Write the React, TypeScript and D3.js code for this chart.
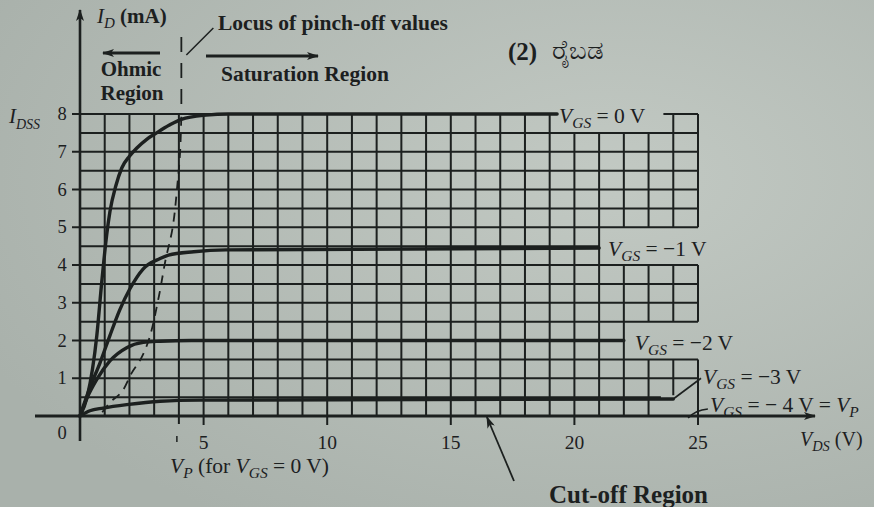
import React from "react";
import * as d3 from "d3";

const W = 874;
const H = 507;

// Output characteristics of an n-channel JFET (IDSS = 8 mA, VP = -4 V)
const vdsGate0 = [0, 0.3, 0.68, 0.88, 1.08, 1.21, 1.45, 1.69, 2.0, 2.3, 2.7, 3.1, 3.6, 4.1, 5.1, 6.0, 19.3];
const idGate0 = [0, 0.53, 2.13, 3.55, 4.8, 5.41, 6.1, 6.57, 6.88, 7.1, 7.33, 7.5, 7.7, 7.86, 7.97, 8.0, 8.0];
const vdsGate1 = [0, 0.4, 0.81, 1.21, 1.6, 2.02, 2.56, 3.24, 3.58, 4.6, 5.9, 21];
const idGate1 = [0, 0.75, 1.41, 2.13, 2.8, 3.37, 3.9, 4.17, 4.26, 4.35, 4.4, 4.45];
const vdsGate2 = [0, 0.3, 0.68, 1.21, 1.89, 2.56, 3.24, 4.5, 22];
const idGate2 = [0, 0.5, 0.97, 1.46, 1.81, 1.95, 1.98, 2.0, 2.0];
const vdsGate3 = [0, 0.4, 0.94, 1.89, 3.24, 4.86, 24];
const idGate3 = [0, 0.14, 0.21, 0.3, 0.39, 0.42, 0.45];

// Locus of pinch-off values
const vdsLocus = [0.9, 1.2, 1.7, 2.1, 2.45, 2.8, 3.2, 3.45, 3.75, 3.95, 4.05, 4.1];
const idLocus = [0.1, 0.35, 0.65, 1.15, 1.5, 2.05, 3.2, 4.1, 5.0, 6.2, 7.0, 8.0];

const yTicks = [1, 2, 3, 4, 5, 6, 7, 8];
const xTicks = [5, 10, 15, 20, 25];
const pinchOff = 4;
const cutOffVds = 16.5;

// blank areas of the grid behind the curve labels (VDS, ID units)
const boxX0 = [19.3, 21, 22, 23.5];
const boxX1 = [23.6, 25.3, 25.3, 25];
const boxY0 = [7.5, 4, 1.5, -0.2];
const boxY1 = [8.3, 5, 2.5, 0.55];

const INK = "#1c201f";
const SERIF = "'Liberation Serif', 'DejaVu Serif', serif";
const LBL = 21.5;

const x = d3.scaleLinear().domain([0, 25]).range([80, 698]);
const y = d3.scaleLinear().domain([0, 8]).range([416, 114]);

function subtract(a: number, b: number, cuts: [number, number][]): [number, number][] {
  let segs: [number, number][] = [[a, b]];
  cuts.forEach(([c0, c1]) => {
    const next: [number, number][] = [];
    segs.forEach(([s0, s1]) => {
      if (c1 <= s0 || c0 >= s1) {
        next.push([s0, s1]);
        return;
      }
      if (c0 > s0) next.push([s0, c0]);
      if (c1 < s1) next.push([c1, s1]);
    });
    segs = next;
  });
  return segs;
}

function gridPath(): string {
  const p = d3.path();
  const boxes = boxX0.map((_, i) => ({ x0: boxX0[i], x1: boxX1[i], y0: boxY0[i], y1: boxY1[i] }));
  for (let k = 1; k <= 16; k++) {
    const v = k / 2;
    const cuts = boxes.filter((b) => b.y0 < v && v < b.y1).map((b) => [b.x0, b.x1] as [number, number]);
    subtract(0, 25, cuts).forEach(([a, b]) => {
      p.moveTo(x(a), y(v));
      p.lineTo(x(b), y(v));
    });
  }
  for (let u = 1; u <= 25; u++) {
    const cuts = boxes.filter((b) => b.x0 < u && u < b.x1).map((b) => [Math.max(0, b.y0), Math.min(8, b.y1)] as [number, number]);
    subtract(0, 8, cuts).forEach(([a, b]) => {
      p.moveTo(x(u), y(a));
      p.lineTo(x(u), y(b));
    });
  }
  return p.toString();
}

const line = d3
  .line<[number, number]>()
  .x((d) => x(d[0]))
  .y((d) => y(d[1]))
  .curve(d3.curveMonotoneX);

const zip = (a: number[], b: number[]) => a.map((v, i) => [v, b[i]] as [number, number]);

const curves = [
  zip(vdsGate0, idGate0),
  zip(vdsGate1, idGate1),
  zip(vdsGate2, idGate2),
  zip(vdsGate3, idGate3),
];

const locusLine = d3
  .line<[number, number]>()
  .x((d) => x(d[0]))
  .y((d) => y(d[1]))
  .curve(d3.curveCatmullRom);

function VGS({ px, py, value, size = LBL }: { px: number; py: number; value: string; size?: number }) {
  return (
    <text x={px} y={py} fontSize={size} fontFamily={SERIF} fill={INK}>
      <tspan fontStyle="italic">V</tspan>
      <tspan fontStyle="italic" fontSize={size * 0.72} dy={5}>GS</tspan>
      <tspan dy={-5}>{` = ${value}`}</tspan>
    </text>
  );
}

export default function App() {
  const x0 = x(0);
  const y0 = y(0);
  const ends = curves.map((c) => c[c.length - 1]);
  return (
    <svg width={W} height={H} viewBox={`0 0 ${W} ${H}`} style={{ position: "absolute", left: 0, top: 0 }}>
      <defs>
        <radialGradient id="paper" cx="70%" cy="35%" r="80%">
          <stop offset="0%" stopColor="#c2c9c3" />
          <stop offset="100%" stopColor="#a9b1ab" />
        </radialGradient>
        <marker id="head" viewBox="0 0 12 8" refX="11" refY="4" markerWidth="12" markerHeight="8" markerUnits="userSpaceOnUse" orient="auto">
          <path d="M0,0 L12,4 L0,8 L3,4 Z" fill={INK} />
        </marker>
      </defs>
      <rect width={W} height={H} fill="url(#paper)" />

      {/* grid */}
      <path d={gridPath()} stroke={INK} strokeWidth={2} fill="none" />

      {/* axes */}
      <line x1={35} y1={y0} x2={815} y2={y0} stroke={INK} strokeWidth={3} markerEnd="url(#head)" />
      <line x1={x0} y1={441} x2={x0} y2={10} stroke={INK} strokeWidth={2.6} markerEnd="url(#head)" />

      {yTicks.map((t) => (
        <g key={t}>
          <line x1={x0 - 8} x2={x0} y1={y(t)} y2={y(t)} stroke={INK} strokeWidth={2} />
          <text x={x0 - 18} y={y(t) + 6} textAnchor="middle" fontSize={18.5} fontFamily={SERIF} fill={INK}>
            {t}
          </text>
        </g>
      ))}
      <text x={x0 - 18} y={y0 + 23} textAnchor="middle" fontSize={18.5} fontFamily={SERIF} fill={INK}>0</text>
      {xTicks.map((t) => (
        <g key={t}>
          <line x1={x(t)} x2={x(t)} y1={y0} y2={y0 + 9} stroke={INK} strokeWidth={2} />
          <text x={x(t)} y={y0 + 33} textAnchor="middle" fontSize={19.5} fontFamily={SERIF} fill={INK}>
            {t}
          </text>
        </g>
      ))}
      <line x1={x(pinchOff)} x2={x(pinchOff)} y1={y0} y2={y0 + 8} stroke={INK} strokeWidth={2} />
      <line x1={x(pinchOff) - 2} x2={x(pinchOff) - 2} y1={y0 + 20} y2={y0 + 26} stroke={INK} strokeWidth={1.5} />

      {/* characteristic curves */}
      {curves.map((c, i) => (
        <path key={i} d={line(c) ?? ""} stroke={INK} strokeWidth={3.4} fill="none" strokeLinecap="round" />
      ))}

      {/* pinch-off locus */}
      <path d={locusLine(zip(vdsLocus, idLocus)) ?? ""} stroke={INK} strokeWidth={1.8} fill="none" strokeDasharray="9 7" />
      <line x1={x(4.1)} x2={x(4.1)} y1={y(8) - 10} y2={y(8) - 82} stroke={INK} strokeWidth={1.8} strokeDasharray="15 11" />
      <line x1={x(4.1) + 5} y1={55} x2={x(4.1) + 32} y2={28} stroke={INK} strokeWidth={1.5} />

      {/* region arrows */}
      <line x1={160} y1={53} x2={103} y2={53} stroke={INK} strokeWidth={3} markerEnd="url(#head)" />
      <line x1={206} y1={56} x2={318} y2={56} stroke={INK} strokeWidth={3} markerEnd="url(#head)" />

      {/* labels */}
      <text x={97} y={23} fontSize={21} fontFamily={SERIF} fill={INK}>
        <tspan fontStyle="italic">I</tspan>
        <tspan fontStyle="italic" fontSize={15} dy={5}>D</tspan>
        <tspan dy={-5} fontWeight="bold">{" (mA)"}</tspan>
      </text>
      <text x={218} y={30} fontSize={21.5} fontWeight="bold" fontFamily={SERIF} fill={INK}>Locus of pinch-off values</text>
      <text x={131} y={76} textAnchor="middle" fontSize={21} fontWeight="bold" fontFamily={SERIF} fill={INK}>Ohmic</text>
      <text x={132} y={100} textAnchor="middle" fontSize={21} fontWeight="bold" fontFamily={SERIF} fill={INK}>Region</text>
      <text x={221} y={81} fontSize={21.5} fontWeight="bold" fontFamily={SERIF} fill={INK}>Saturation Region</text>
      <text x={508} y={60} fontSize={25} fontWeight="bold" fontFamily={SERIF} fill={INK}>(2)</text>
      <text x={552} y={59} fontSize={26} fontFamily="'Noto Sans', sans-serif" fill={INK}>ರೈಬಡ</text>

      <text x={9} y={123} fontSize={21} fontFamily={SERIF} fill={INK}>
        <tspan fontStyle="italic">I</tspan>
        <tspan fontStyle="italic" fontSize={14} dy={6}>DSS</tspan>
      </text>

      <VGS px={x(ends[0][0]) + 2} py={y(ends[0][1]) + 9} value="0 V" />
      <VGS px={x(ends[1][0]) + 9} py={y(ends[1][1]) + 8} value="−1 V" />
      <VGS px={x(ends[2][0]) + 11} py={y(ends[2][1]) + 9} value="−2 V" />
      <line x1={x(ends[3][0])} y1={y(ends[3][1])} x2={x(25) + 3} y2={y(1.0)} stroke={INK} strokeWidth={1.6} />
      <VGS px={x(25) + 5} py={y(0.85)} value="−3 V" />
      <path d={`M${x(24.6)},${y0 + 2} Q${x(24.9)},${y0 - 6} ${x(25.4)},${y0 - 7}`} stroke={INK} strokeWidth={1.5} fill="none" />
      <text x={x(25) + 12} y={y0 - 4} fontSize={LBL} fontFamily={SERIF} fill={INK}>
        <tspan fontStyle="italic">V</tspan>
        <tspan fontStyle="italic" fontSize={LBL * 0.72} dy={5}>GS</tspan>
        <tspan dy={-5}>{" = − 4 V = "}</tspan>
        <tspan fontStyle="italic">V</tspan>
        <tspan fontStyle="italic" fontSize={LBL * 0.72} dy={5}>P</tspan>
      </text>

      <text x={800} y={y0 + 30} fontSize={20} fontFamily={SERIF} fill={INK}>
        <tspan fontStyle="italic">V</tspan>
        <tspan fontStyle="italic" fontSize={14.4} dy={5}>DS</tspan>
        <tspan dy={-5}>{" (V)"}</tspan>
      </text>

      <text x={170} y={473} fontSize={21.5} fontFamily={SERIF} fill={INK}>
        <tspan fontStyle="italic">V</tspan>
        <tspan fontStyle="italic" fontSize={15.5} dy={5}>P</tspan>
        <tspan dy={-5}>{" (for "}</tspan>
        <tspan fontStyle="italic">V</tspan>
        <tspan fontStyle="italic" fontSize={15.5} dy={5}>GS</tspan>
        <tspan dy={-5}>{" = 0 V)"}</tspan>
      </text>

      <line x1={514} y1={481} x2={x(cutOffVds) - 1} y2={y0 + 1} stroke={INK} strokeWidth={1.8} markerEnd="url(#head)" />
      <text x={549} y={503} fontSize={25} fontWeight="bold" fontFamily={SERIF} fill={INK}>Cut-off Region</text>
    </svg>
  );
}
